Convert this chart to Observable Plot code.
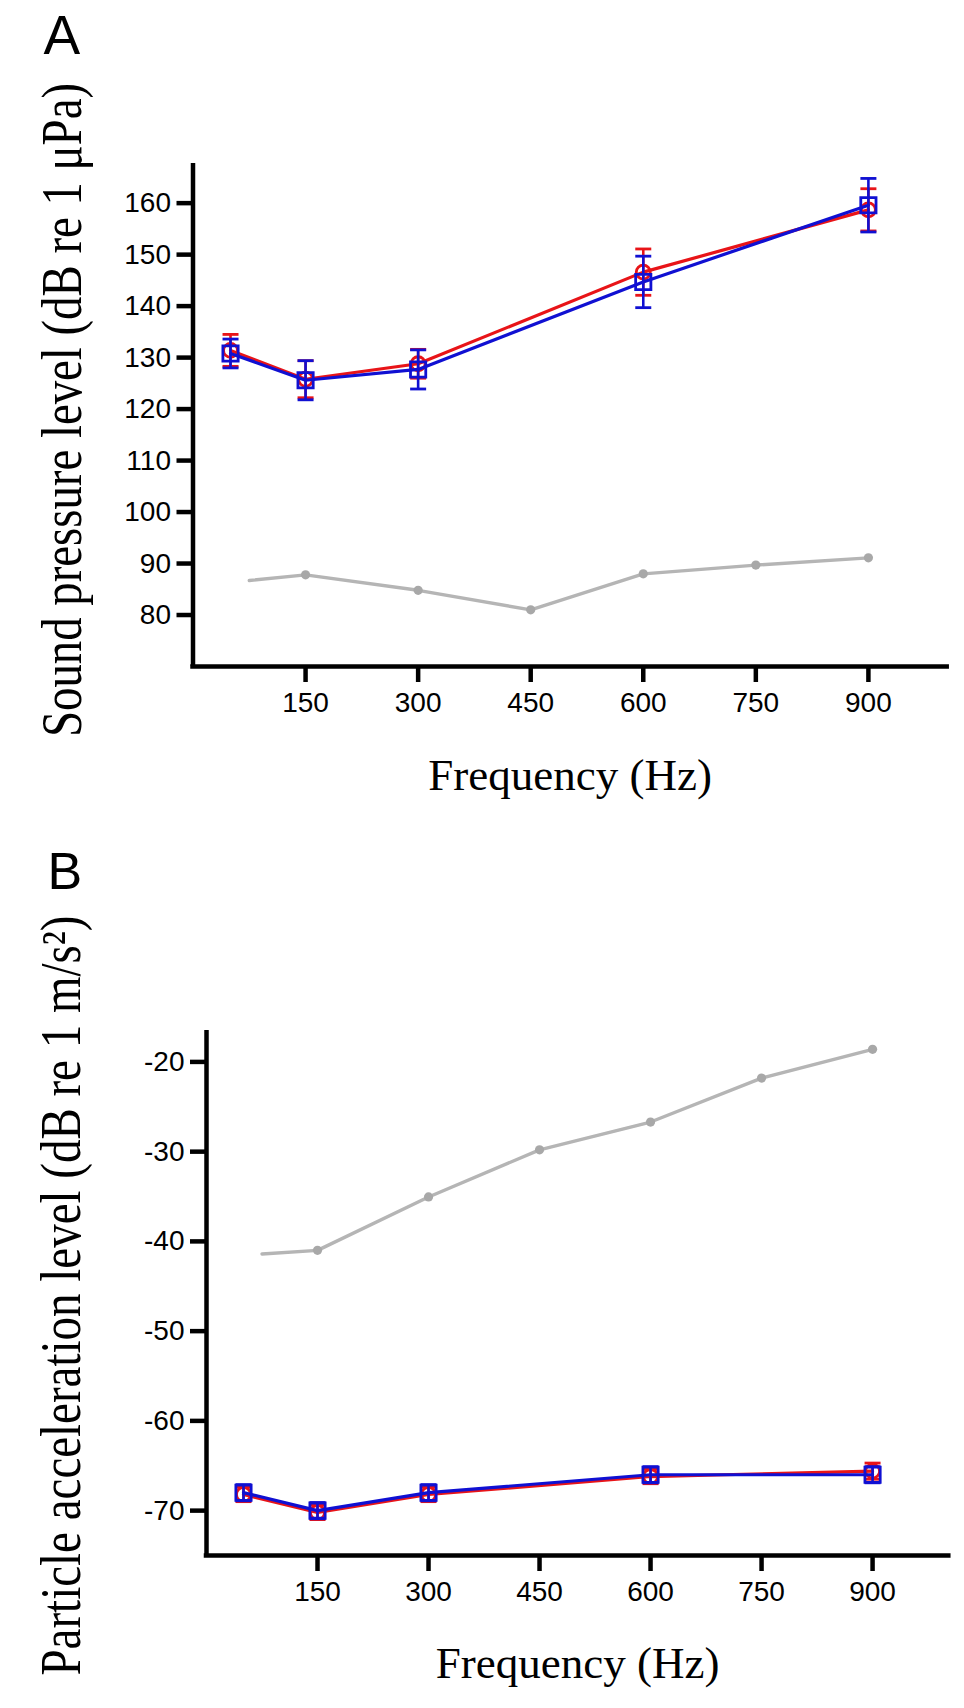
<!DOCTYPE html>
<html><head><meta charset="utf-8">
<script src="https://cdn.jsdelivr.net/npm/d3@7"></script>
<script src="https://cdn.jsdelivr.net/npm/@observablehq/plot@0.6"></script>
<style>
body{margin:0;background:#fff;width:964px;}
#chart svg{display:block;}
</style>
</head><body><div id="chart"></div>
<script>
// ---- data ----
const freqMeasured = [50, 150, 300, 600, 900];
const freqAmbient = [75, 150, 300, 450, 600, 750, 900];
const ambientHasMarker = [false, true, true, true, true, true, true];
const xTicks = [150, 300, 450, 600, 750, 900];

const splTicks = [80, 90, 100, 110, 120, 130, 140, 150, 160];
const splRedMean = [131.4, 125.8, 128.8, 146.6, 158.7];
const splRedErr = [3.1, 3.6, 2.8, 4.5, 4.1];
const splBlueMean = [130.8, 125.6, 127.7, 144.7, 159.6];
const splBlueErr = [2.8, 3.8, 3.8, 5.0, 5.2];
const splAmbient = [86.7, 87.8, 84.8, 81.0, 88.0, 89.7, 91.1];

const palTicks = [-70, -60, -50, -40, -30, -20];
const palRedMean = [-68.2, -70.2, -68.2, -66.2, -65.6];
const palRedErr = [0.8, 0.8, 0.8, 0.8, 0.9];
const palBlueMean = [-68.0, -70.0, -68.0, -66.0, -66.0];
const palBlueErr = [0.9, 0.9, 0.9, 0.9, 0.9];
const palAmbient = [-41.4, -41.0, -35.05, -29.8, -26.7, -21.8, -18.6];

// ---- styling ----
const RED = "#e81418";
const BLUE = "#1010d2";
const GREY_LINE = "#b5b5b5";
const GREY_DOT = "#a8a8a8";
const SANS = "'Liberation Sans', Arial, Helvetica, sans-serif";
const SERIF = "'Liberation Serif', 'Times New Roman', Times, serif";

const capSymbol = {
  draw(ctx, size) {
    const h = Math.sqrt(size / Math.PI);
    ctx.moveTo(-h, 0);
    ctx.lineTo(h, 0);
  }
};

function series(freq, mean, err) {
  return freq.map((f, i) => ({f, m: mean[i], lo: mean[i] - err[i], hi: mean[i] + err[i]}));
}

function seriesMarks(rows, color, symbol, r) {
  return [
    Plot.line(rows, {x: "f", y: "m", stroke: color, strokeWidth: 3.2}),
    Plot.ruleX(rows, {x: "f", y1: "lo", y2: "hi", stroke: color, strokeWidth: 2.6}),
    Plot.dot(rows, {x: "f", y: "hi", symbol: capSymbol, r: 8, stroke: color, fill: "none", strokeWidth: 2.8}),
    Plot.dot(rows, {x: "f", y: "lo", symbol: capSymbol, r: 8, stroke: color, fill: "none", strokeWidth: 2.8}),
    Plot.dot(rows, {x: "f", y: "m", symbol, r, stroke: color, fill: "none", strokeWidth: 2.8})
  ];
}

function panel(cfg) {
  const red = series(freqMeasured, cfg.redMean, cfg.redErr);
  const blue = series(freqMeasured, cfg.blueMean, cfg.blueErr);
  const amb = freqAmbient.map((f, i) => ({f, v: cfg.ambient[i], mk: ambientHasMarker[i]}));
  const svg = Plot.plot({
    width: 964,
    height: cfg.height,
    marginTop: cfg.mt, marginBottom: cfg.mb, marginLeft: cfg.ml, marginRight: cfg.mr,
    style: {fontFamily: SANS, fontSize: "28px", color: "black", background: "white", overflow: "visible"},
    x: {domain: [0, cfg.xmax], label: null},
    y: {domain: cfg.ydomain, label: null},
    marks: [
      Plot.line(amb, {x: "f", y: "v", stroke: GREY_LINE, strokeWidth: 3.4}),
      Plot.dot(amb.filter(d => d.mk), {x: "f", y: "v", r: 4.6, fill: GREY_DOT, stroke: "none"}),
      ...seriesMarks(red, RED, "circle", 7),
      ...seriesMarks(blue, BLUE, "square", 8.6),
      Plot.ruleX([0], {stroke: "black", strokeWidth: 4.5}),
      Plot.ruleY([cfg.ydomain[0]], {stroke: "black", strokeWidth: 4.5, strokeLinecap: "square"}),
      Plot.axisX({ticks: xTicks, tickSize: 16, tickPadding: 10, strokeWidth: 4.5, fontSize: 28, fontFamily: SANS, label: null, tickFormat: d => String(d)}),
      Plot.axisY({ticks: cfg.yticks, tickSize: 16, tickPadding: 6, strokeWidth: 4.5, fontSize: 28, fontFamily: SANS, label: null, tickFormat: d => String(d)}),
      Plot.text([cfg.xlabel], {frameAnchor: "bottom", dy: cfg.xlabelDy, lineAnchor: "bottom", fontSize: 45, fontFamily: SERIF}),
      Plot.text([cfg.ylabel], {frameAnchor: "left", rotate: -90, textAnchor: "middle", lineAnchor: "bottom", dx: cfg.ylabelDx, dy: cfg.ylabelDy, fontSize: 56, fontFamily: SERIF}),
      Plot.text([cfg.letter], {frameAnchor: "top-left", textAnchor: "start", lineAnchor: "bottom", dx: cfg.letterDx, dy: cfg.letterDy, fontSize: cfg.letterSize, fontFamily: SANS})
    ]
  });
  d3.select(svg).selectAll("text").filter(function() { return this.textContent === cfg.ylabel; })
    .attr("textLength", cfg.ylabelLength).attr("lengthAdjust", "spacingAndGlyphs");
  return svg;
}

const chart = document.getElementById("chart");
chart.appendChild(panel({
  height: 800, mt: 163, mb: 134, ml: 192.5, mr: 17.3,
  xmax: 1005, ydomain: [70, 167.7], yticks: splTicks,
  redMean: splRedMean, redErr: splRedErr, blueMean: splBlueMean, blueErr: splBlueErr, ambient: splAmbient,
  xlabel: "Frequency (Hz)", xlabelDy: 123,
  ylabel: "Sound pressure level (dB re 1 \u03bcPa)", ylabelDx: -112, ylabelDy: -5, ylabelLength: 654,
  letter: "A", letterDx: 43 - 192.5, letterDy: 53 - 163, letterSize: 55
}));
chart.appendChild(panel({
  height: 908, mt: 230, mb: 153, ml: 206, mr: 15.7,
  xmax: 1003, ydomain: [-75, -16.5], yticks: palTicks,
  redMean: palRedMean, redErr: palRedErr, blueMean: palBlueMean, blueErr: palBlueErr, ambient: palAmbient,
  xlabel: "Frequency (Hz)", xlabelDy: 122,
  ylabel: "Particle acceleration level (dB re 1 m/s\u00b2)", ylabelDx: -127, ylabelDy: 2.5, ylabelLength: 760,
  letter: "B", letterDx: 47 - 206, letterDy: 888 - 800 - 230, letterSize: 52
}));
</script>
</body></html>
